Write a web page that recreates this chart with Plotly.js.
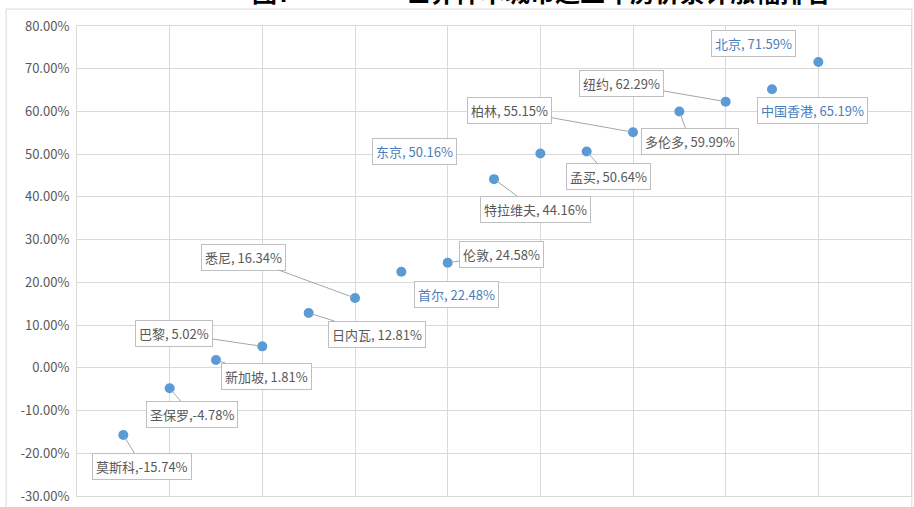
<!DOCTYPE html>
<html>
<head>
<meta charset="utf-8">
<script src="https://cdn.plot.ly/plotly-3.0.1.min.js"></script>
<style>html,body{margin:0;padding:0;background:#fff;}#chart{width:914px;height:507px;}</style>
</head>
<body>
<div id="chart"></div>
<script>
const cities = ["莫斯科","圣保罗","新加坡","巴黎","日内瓦","悉尼","首尔","伦敦","特拉维夫","东京","孟买","柏林","多伦多","纽约","中国香港","北京"];
const rank = [1,2,3,4,5,6,7,8,9,10,11,12,13,14,15,16];
const growth = [-15.74,-4.78,1.81,5.02,12.81,16.34,22.48,24.58,44.16,50.16,50.64,55.15,59.99,62.29,65.19,71.59];
const labelTexts = ["莫斯科,-15.74%","圣保罗,-4.78%","新加坡, 1.81%","巴黎, 5.02%","日内瓦, 12.81%","悉尼, 16.34%","首尔, 22.48%","伦敦, 24.58%","特拉维夫, 44.16%","东京, 50.16%","孟买, 50.64%","柏林, 55.15%","多伦多, 59.99%","纽约, 62.29%","中国香港, 65.19%","北京, 71.59%"];
const yTickLabels = ["-30.00%","-20.00%","-10.00%","0.00%","10.00%","20.00%","30.00%","40.00%","50.00%","60.00%","70.00%","80.00%"];
const yTickVals = [-30,-20,-10,0,10,20,30,40,50,60,70,80];
const titleNumber = "图7";
const titleText = "世界样本城市近五年房价累计涨幅排名";

// label offsets (pixels, from point to label centre) and whether leader line shown
const offsets = [[19,31],[22,26],[50,16],[-88,-13],[68,21],[-112,-41],[55,23],[54,-8],[41,30],[-126,-2],[22,25],[-124,-22],[11,30],[-104,-18],[40,21],[-65,-18]];
const blueLabel = [false,false,false,false,false,false,true,false,false,true,false,false,false,false,true,true];

const font = "Noto Sans CJK SC, Noto Sans, sans-serif";
const annotations = cities.map((c,i)=>{
  const blue = blueLabel[i];
  const a = {
    x: rank[i], y: growth[i], xref:'x', yref:'y',
    text: labelTexts[i],
    font: {family: font, size: 13, color: blue ? '#4A7EBB' : '#595959'},
    bgcolor: '#ffffff', bordercolor: '#BFBFBF', borderwidth: 1, borderpad: 3
  };
  if (blue) {
    a.showarrow = false;
    a.xshift = offsets[i][0];
    a.yshift = -offsets[i][1];
  } else {
    a.showarrow = true;
    a.arrowhead = 0;
    a.arrowwidth = 1;
    a.arrowcolor = '#A6A6A6';
    a.ax = offsets[i][0];
    a.ay = offsets[i][1];
    a.standoff = 3;
  }
  return a;
});

annotations.push({
  xref:'paper', yref:'paper', x: 0.234, y: 1.031, yanchor:'bottom', xanchor:'center',
  showarrow:false, text: titleNumber,
  font:{family: font, size: 25, color:'#000000', weight: 'bold'}
});
annotations.push({
  xref:'paper', yref:'paper', x: 0.6475, y: 1.031, yanchor:'bottom', xanchor:'center',
  showarrow:false, text: titleText,
  font:{family: font, size: 25, color:'#000000', weight: 'bold'}
});

const trace = {
  x: rank, y: growth, mode: 'markers', type: 'scatter',
  marker: {color: '#5B9BD5', size: 10},
  text: cities, hoverinfo: 'text', cliponaxis: false
};

const layout = {
  width: 914, height: 507,
  margin: {l: 77, r: 3, t: 26, b: 11},
  paper_bgcolor: '#ffffff', plot_bgcolor: '#ffffff',
  showlegend: false,
  font: {family: font, color: '#595959', size: 13},
  xaxis: {range: [0,18], dtick: 2, tick0: 0, showticklabels: false, showgrid: true,
          gridcolor: '#D9D9D9', gridwidth: 1, zeroline: false, showline: true, mirror: true,
          linecolor: '#D9D9D9', linewidth: 1, ticks: ''},
  yaxis: {range: [-30,80], tickvals: yTickVals, ticktext: yTickLabels, showgrid: true,
          gridcolor: '#D9D9D9', gridwidth: 1, zeroline: false, showline: true, mirror: true,
          linecolor: '#D9D9D9', linewidth: 1, ticks: '',
          tickfont: {family: font, size: 13, color: '#595959'}, ticklabelstandoff: 4},
  shapes: [
    {type:'rect', xref:'paper', yref:'paper', x0:-0.085, x1:1.001, y0:-0.04, y1:1.036,
     line:{color:'#D9D9D9', width:1}, fillcolor:'rgba(0,0,0,0)', layer:'below'}
  ],
  annotations: annotations
};

Plotly.newPlot('chart', [trace], layout, {displayModeBar: false, staticPlot: true});
</script>
</body>
</html>
